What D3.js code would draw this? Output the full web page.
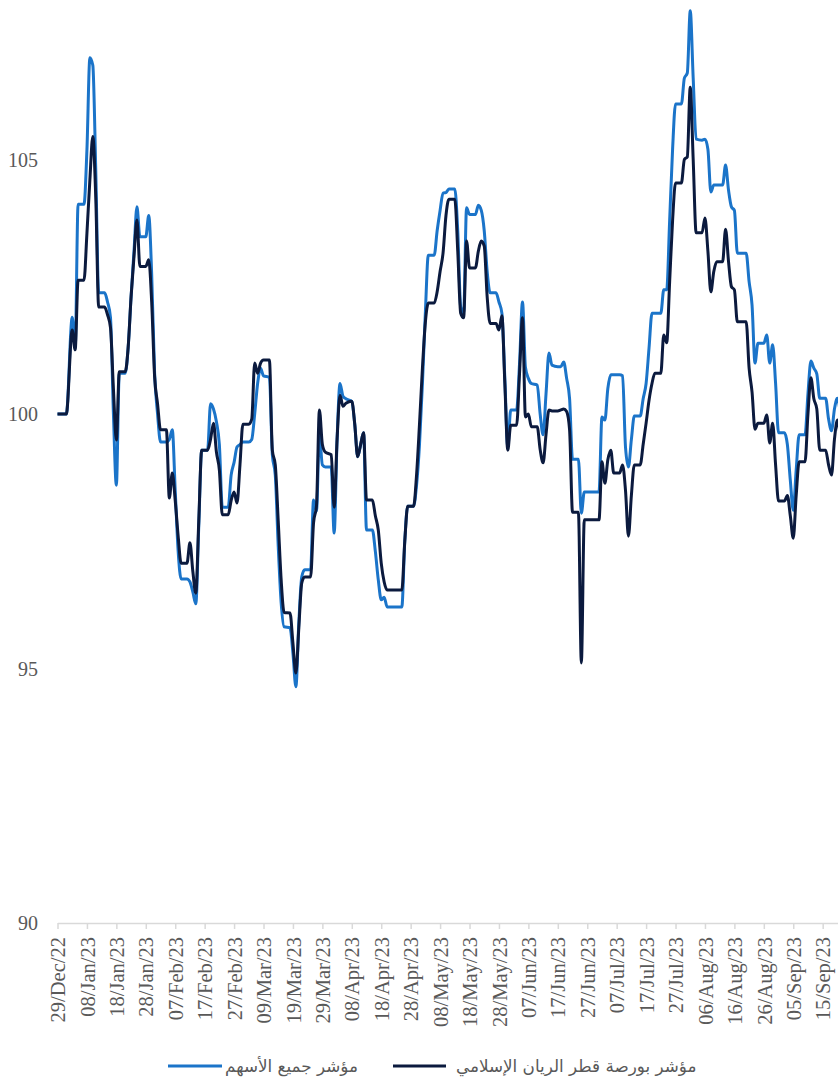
<!DOCTYPE html>
<html>
<head>
<meta charset="utf-8">
<script src="https://cdn.jsdelivr.net/npm/d3@7"></script>
<style>
  body { margin: 0; background: #fff; }
  .tickLabel { font-family: "Liberation Serif", "Times New Roman", serif; font-size: 20px; fill: #595959; }
  .xLabel { font-size: 20.5px; }
  .legendText { font-family: "DejaVu Sans", sans-serif; font-size: 16.8px; fill: #595959; }
</style>
</head>
<body>
<div id="chart"></div>
<script>
// daily closes, weekend values held flat
var dates = [
  "2022-12-29","2022-12-31","2023-01-01","2023-01-03","2023-01-04","2023-01-05","2023-01-07","2023-01-08","2023-01-09","2023-01-10",
  "2023-01-11","2023-01-12","2023-01-14","2023-01-15","2023-01-16","2023-01-17","2023-01-18","2023-01-19","2023-01-21","2023-01-22",
  "2023-01-23","2023-01-24","2023-01-25","2023-01-26","2023-01-28","2023-01-29","2023-01-30","2023-01-31","2023-02-01","2023-02-02",
  "2023-02-04","2023-02-05","2023-02-06","2023-02-07","2023-02-08","2023-02-09","2023-02-11","2023-02-12","2023-02-13","2023-02-14",
  "2023-02-15","2023-02-16","2023-02-18","2023-02-19","2023-02-20","2023-02-21","2023-02-22","2023-02-23","2023-02-25","2023-02-26",
  "2023-02-27","2023-02-28","2023-03-01","2023-03-02","2023-03-04","2023-03-05","2023-03-06","2023-03-07","2023-03-08","2023-03-09",
  "2023-03-11","2023-03-12","2023-03-13","2023-03-14","2023-03-15","2023-03-16","2023-03-18","2023-03-19","2023-03-20","2023-03-21",
  "2023-03-22","2023-03-23","2023-03-25","2023-03-26","2023-03-27","2023-03-28","2023-03-29","2023-03-30","2023-04-01","2023-04-02",
  "2023-04-03","2023-04-04","2023-04-05","2023-04-06","2023-04-08","2023-04-09","2023-04-10","2023-04-11","2023-04-12","2023-04-13",
  "2023-04-15","2023-04-16","2023-04-17","2023-04-18","2023-04-19","2023-04-20","2023-04-25","2023-04-26","2023-04-27","2023-04-29",
  "2023-04-30","2023-05-01","2023-05-02","2023-05-03","2023-05-04","2023-05-06","2023-05-07","2023-05-08","2023-05-09","2023-05-10",
  "2023-05-11","2023-05-13","2023-05-14","2023-05-15","2023-05-16","2023-05-17","2023-05-18","2023-05-20","2023-05-21","2023-05-22",
  "2023-05-23","2023-05-24","2023-05-25","2023-05-27","2023-05-28","2023-05-29","2023-05-30","2023-05-31","2023-06-01","2023-06-03",
  "2023-06-04","2023-06-05","2023-06-06","2023-06-07","2023-06-08","2023-06-10","2023-06-11","2023-06-12","2023-06-13","2023-06-14",
  "2023-06-15","2023-06-17","2023-06-18","2023-06-19","2023-06-20","2023-06-21","2023-06-22","2023-06-24","2023-06-25","2023-06-26",
  "2023-07-01","2023-07-02","2023-07-03","2023-07-04","2023-07-05","2023-07-06","2023-07-08","2023-07-09","2023-07-10","2023-07-11",
  "2023-07-12","2023-07-13","2023-07-15","2023-07-16","2023-07-17","2023-07-18","2023-07-19","2023-07-20","2023-07-22","2023-07-23",
  "2023-07-24","2023-07-25","2023-07-26","2023-07-27","2023-07-29","2023-07-30","2023-07-31","2023-08-01","2023-08-02","2023-08-03",
  "2023-08-05","2023-08-06","2023-08-07","2023-08-08","2023-08-09","2023-08-10","2023-08-12","2023-08-13","2023-08-14","2023-08-15",
  "2023-08-16","2023-08-17","2023-08-20","2023-08-21","2023-08-22","2023-08-23","2023-08-24","2023-08-26","2023-08-27","2023-08-28",
  "2023-08-29","2023-08-30","2023-08-31","2023-09-02","2023-09-03","2023-09-04","2023-09-05","2023-09-06","2023-09-07","2023-09-09",
  "2023-09-10","2023-09-11","2023-09-12","2023-09-13","2023-09-14","2023-09-16","2023-09-17","2023-09-18","2023-09-19","2023-09-20",
  "2023-09-21"
];

// مؤشر جميع الأسهم (blue)
var allShareIndex = [
  100, 100, 100, 101.9, 101.3, 104.12, 104.12, 105.19, 107.0, 106.85,
  104.8, 102.38, 102.38, 102.2, 101.9, 100.0, 98.6, 100.8, 100.8, 101.3,
  102.3, 103.2, 104.07, 103.48, 103.48, 103.9, 102.75, 100.8, 100.0, 99.45,
  99.45, 99.5, 99.69, 98.5, 97.3, 96.76, 96.76, 96.7, 96.5, 96.27,
  97.8, 99.29, 99.29, 100.2, 100.1, 99.85, 99.4, 98.17, 98.17, 98.8,
  99.05, 99.35, 99.4, 99.45, 99.45, 99.5, 100.0, 100.6, 100.9, 100.75,
  100.72, 99.2, 98.8, 97.4, 96.29, 95.82, 95.8, 95.3, 94.64, 95.9,
  96.8, 96.94, 96.94, 98.31, 98.1, 99.6, 99.0, 98.96, 98.96, 97.66,
  99.5, 100.6, 100.35, 100.3, 100.25, 99.8, 99.16, 99.4, 99.63, 97.72,
  97.72, 97.3, 96.74, 96.35, 96.4, 96.21, 96.21, 97.5, 98.19, 98.19,
  98.6, 99.4, 100.6, 102.0, 103.12, 103.12, 103.6, 104.0, 104.34, 104.35,
  104.42, 104.42, 103.6, 102.1, 101.98, 104.05, 103.92, 103.92, 104.1, 104.0,
  103.6, 102.8, 102.38, 102.38, 102.2, 101.98, 100.7, 99.35, 100.08, 100.08,
  101.0, 102.2, 100.92, 100.7, 100.6, 100.57, 100.0, 99.59, 100.4, 101.2,
  100.96, 100.93, 100.93, 101.02, 100.7, 100.3, 99.11, 99.11, 98.05, 98.47,
  98.47, 99.94, 99.88, 100.5, 100.77, 100.77, 100.77, 100.75, 99.35, 98.96,
  99.5, 99.96, 99.96, 100.3, 100.6, 101.3, 101.98, 101.98, 101.98, 102.44,
  102.44, 103.8, 105.2, 106.09, 106.09, 106.6, 106.7, 107.92, 106.6, 105.4,
  105.38, 105.4, 105.2, 104.36, 104.5, 104.5, 104.5, 104.89, 104.4, 104.07,
  104.0, 103.16, 103.16, 102.6, 102.14, 101.0, 101.39, 101.39, 101.55, 101.0,
  101.36, 100.6, 99.63, 99.63, 99.4, 98.7, 98.11, 98.9, 99.59, 99.59,
  100.4, 101.04, 100.9, 100.79, 100.31, 100.31, 99.9, 99.67, 100.1, 100.31,
  100.0
];

// مؤشر بورصة قطر الريان الإسلامي (navy)
var rayanIslamicIndex = [
  100, 100, 100, 101.65, 101.26, 102.63, 102.63, 103.55, 104.6, 105.45,
  104.25, 102.1, 102.1, 101.95, 101.7, 100.5, 99.49, 100.83, 100.83, 101.3,
  102.3, 103.1, 103.81, 102.9, 102.9, 103.03, 102.2, 100.73, 100.2, 99.69,
  99.69, 98.35, 98.84, 98.3, 97.6, 97.07, 97.07, 97.47, 96.9, 96.48,
  97.9, 99.29, 99.29, 99.5, 99.82, 99.25, 98.9, 98.02, 98.02, 98.3,
  98.47, 98.25, 99.0, 99.8, 99.8, 99.9, 101.0, 100.8, 101.0, 101.06,
  101.06, 99.29, 99.0, 97.9, 96.74, 96.1, 96.09, 95.5, 94.91, 95.8,
  96.68, 96.8, 96.8, 97.86, 98.2, 100.08, 99.4, 99.25, 99.2, 98.17,
  99.5, 100.37, 100.15, 100.21, 100.25, 99.8, 99.16, 99.4, 99.63, 98.31,
  98.31, 98.0, 97.72, 97.07, 96.7, 96.54, 96.54, 97.5, 98.19, 98.19,
  98.8, 99.8, 100.9, 101.8, 102.18, 102.18, 102.4, 102.8, 103.16, 103.9,
  104.22, 104.22, 103.2, 101.98, 101.89, 103.4, 102.87, 102.87, 103.2, 103.4,
  103.3, 102.3, 101.78, 101.78, 101.65, 101.93, 100.6, 99.29, 99.78, 99.78,
  100.8, 101.89, 99.94, 100.0, 99.75, 99.75, 99.3, 99.04, 99.6, 100.08,
  100.06, 100.06, 100.08, 100.1, 100.05, 99.69, 98.07, 98.07, 95.11, 97.92,
  97.92, 99.06, 98.64, 99.1, 99.29, 98.84, 98.84, 99.0, 98.5, 97.6,
  98.4, 99.0, 99.0, 99.4, 99.82, 100.27, 100.6, 100.8, 100.8, 101.55,
  101.4, 102.6, 103.8, 104.54, 104.54, 105.0, 105.05, 106.42, 105.0, 103.56,
  103.56, 103.85, 103.2, 102.4, 102.8, 102.99, 102.99, 103.63, 103.0, 102.5,
  102.44, 101.81, 101.81, 100.9, 100.43, 99.7, 99.82, 99.82, 99.98, 99.43,
  99.82, 99.0, 98.29, 98.29, 98.4, 98.0, 97.56, 98.4, 99.06, 99.06,
  100.0, 100.71, 100.3, 100.1, 99.29, 99.29, 99.0, 98.8, 99.5, 99.88,
  99.5
];

var yTicks = [90, 95, 100, 105];
var seriesNames = ["مؤشر جميع الأسهم", "مؤشر بورصة قطر الريان الإسلامي"];
var seriesColors = ["#1b74c9", "#0b1a3e"];

var width = 838, height = 1081;
var plotLeft = 57.5, plotBottom = 923;

var parseDate = d3.timeParse("%Y-%m-%d");
var formatTick = d3.timeFormat("%d/%b/%y");
var startDate = parseDate(dates[0]);
var endDate = d3.timeDay.offset(startDate, 267);

var svg = d3.select("#chart").append("svg")
    .attr("width", width)
    .attr("height", height);

var xScale = d3.scaleTime()
    .domain([startDate, endDate])
    .range([plotLeft, plotLeft + 267 * 2.943]);

var yScale = d3.scaleLinear()
    .domain([90, 105])
    .range([plotBottom, plotBottom - 15 * 50.9]);

// y labels, no axis line or grid
svg.selectAll(".yLabel")
    .data(yTicks)
    .enter()
    .append("text")
    .attr("class", "tickLabel")
    .attr("x", 38)
    .attr("y", function(d) { return yScale(d); })
    .attr("dy", "0.35em")
    .attr("text-anchor", "end")
    .text(function(d) { return d; });

// x axis, a tick every 10 days from the first date
var xAxis = d3.axisBottom(xScale)
    .tickValues(d3.timeDay.range(startDate, endDate, 10))
    .tickFormat(formatTick)
    .tickSize(6)
    .tickSizeOuter(0);

var gx = svg.append("g")
    .attr("transform", "translate(0," + plotBottom + ")")
    .call(xAxis);

gx.select(".domain").attr("stroke", "#d9d9d9").attr("stroke-width", 1.5);
gx.selectAll(".tick line").attr("stroke", "#d9d9d9").attr("stroke-width", 1.5);
gx.selectAll(".tick text")
    .attr("class", "tickLabel xLabel")
    .attr("fill", null)
    .attr("font-size", null)
    .attr("font-family", null)
    .attr("text-anchor", "end")
    .attr("transform", "rotate(-90)")
    .attr("x", -14)
    .attr("y", 0)
    .attr("dy", "0.35em");

var rows = dates.map(function(d, i) {
    return { date: parseDate(d), values: [allShareIndex[i], rayanIslamicIndex[i]] };
});

svg.append("clipPath").attr("id", "plotClip")
    .append("rect").attr("x", 0).attr("y", 0).attr("width", width).attr("height", plotBottom);

// blue first, navy drawn on top
[0, 1].forEach(function(k) {
    var line = d3.line()
        .x(function(d) { return xScale(d.date); })
        .y(function(d) { return yScale(d.values[k]); })
        .curve(d3.curveMonotoneX);
    svg.append("path")
        .datum(rows)
        .attr("clip-path", "url(#plotClip)")
        .attr("fill", "none")
        .attr("stroke", seriesColors[k])
        .attr("stroke-width", 3)
        .attr("stroke-linejoin", "round")
        .attr("d", line);
});

// legend
var legendY = 1066;
var legendItems = [
    { x1: 168, x2: 222, tx: 225 },
    { x1: 393, x2: 446, tx: 456 }
];
legendItems.forEach(function(item, k) {
    svg.append("line")
        .attr("x1", item.x1).attr("x2", item.x2)
        .attr("y1", legendY).attr("y2", legendY)
        .attr("stroke", seriesColors[k])
        .attr("stroke-width", 3);
    svg.append("text")
        .attr("class", "legendText")
        .attr("x", item.tx)
        .attr("y", legendY)
        .attr("dy", "0.35em")
        .attr("text-anchor", "start")
        .text(seriesNames[k]);
});
</script>
</body>
</html>
